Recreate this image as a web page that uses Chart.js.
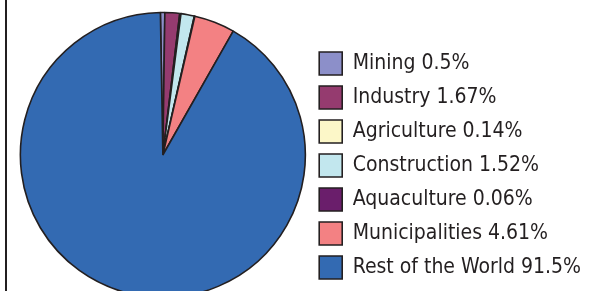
<!DOCTYPE html>
<html>
<head>
<meta charset="utf-8">
<script src="https://cdn.jsdelivr.net/npm/chart.js@4"></script>
<style>
  html, body { margin: 0; padding: 0; background: #fff; overflow: hidden; }
</style>
</head>
<body>
<canvas id="myPieChart" width="591" height="291"></canvas>
<script>
const categories = ["Mining", "Industry", "Agriculture", "Construction", "Aquaculture", "Municipalities", "Rest of the World"];
const shares = [0.5, 1.67, 0.14, 1.52, 0.06, 4.61, 91.5];
const shareLabels = ["0.5%", "1.67%", "0.14%", "1.52%", "0.06%", "4.61%", "91.5%"];
const sliceColors = ["#8c8fc9", "#953b6f", "#fcf7c8", "#c2e7ee", "#6a1e6b", "#f38183", "#336ab2"];

// linea vertical del marco a la izquierda
const frameLine = {
  id: "frameLine",
  afterDraw(chart) {
    const ctx = chart.ctx;
    ctx.save();
    ctx.strokeStyle = "#231f20";
    ctx.lineWidth = 2;
    ctx.beginPath();
    ctx.moveTo(6, 0);
    ctx.lineTo(6, chart.height);
    ctx.stroke();
    ctx.restore();
  },
};

const pieCtx = document.getElementById("myPieChart").getContext("2d");

new Chart(pieCtx, {
  type: "pie",
  plugins: [frameLine],
  data: {
    labels: categories.map((c, i) => c + " " + shareLabels[i]),
    datasets: [
      {
        data: shares,
        backgroundColor: sliceColors,
        borderColor: "#231f20",
        borderWidth: 1.6,
      },
    ],
  },
  options: {
    responsive: false,
    animation: false,
    devicePixelRatio: 1,
    rotation: -1,
    radius: 142.5,
    layout: { padding: { left: 17.5, top: 20, bottom: 1, right: 0 } },
    plugins: {
      tooltip: { enabled: false },
      legend: {
        position: "right",
        align: "end",
        labels: {
          boxWidth: 23,
          boxHeight: 23,
          padding: 11,
          color: "#231f20",
          font: {
            family: '"DejaVu Sans Condensed", sans-serif',
            size: 21,
          },
        },
      },
    },
  },
});
</script>
</body>
</html>
